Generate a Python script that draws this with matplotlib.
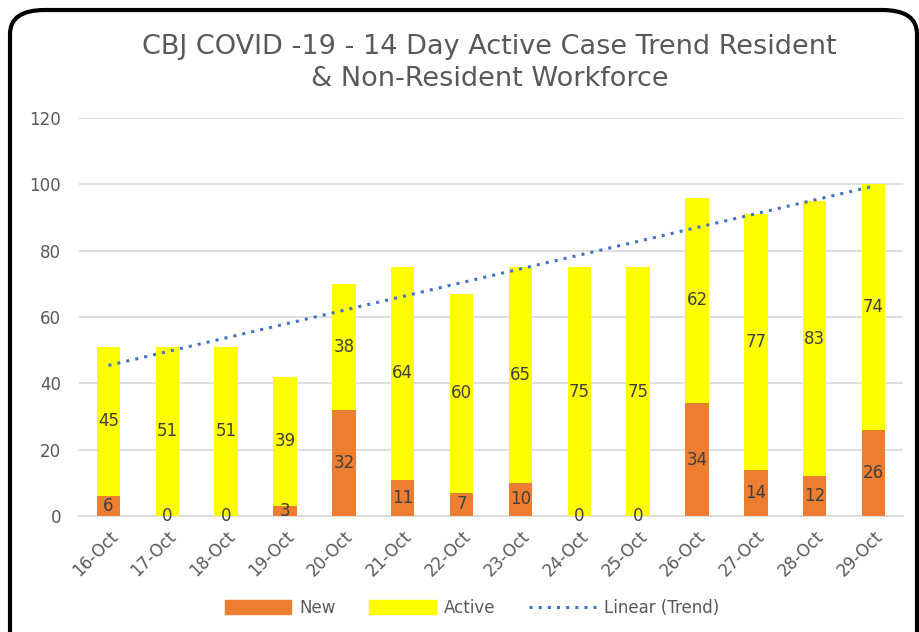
import matplotlib.pyplot as plt
import numpy as np
from matplotlib.patches import FancyBboxPatch
from matplotlib.lines import Line2D
from matplotlib.patches import Patch

plt.rcParams['font.family'] = ['DejaVu Sans']

#---- data
dates = ["16-Oct", "17-Oct", "18-Oct", "19-Oct", "20-Oct", "21-Oct", "22-Oct",
         "23-Oct", "24-Oct", "25-Oct", "26-Oct", "27-Oct", "28-Oct", "29-Oct"]
new_cases = [6, 0, 0, 3, 32, 11, 7, 10, 0, 0, 34, 14, 12, 26]
active_cases = [45, 51, 51, 39, 38, 64, 60, 65, 75, 75, 62, 77, 83, 74]

x = np.arange(len(dates))
new_arr = np.array(new_cases)
act_arr = np.array(active_cases)
totals = new_arr + act_arr

# linear trend of the totals (like Excel's trendline)
slope, intercept = np.polyfit(x, totals, 1)
trend = slope * x + intercept

fig = plt.figure(figsize=(9.2, 6.32), dpi=100)

# rounded black frame
frame = FancyBboxPatch((10 / 920, -30 / 632), 907 / 920, 652 / 632,
                       boxstyle="round,pad=0,rounding_size=0.038",
                       transform=fig.transFigure, fill=False,
                       edgecolor="black", linewidth=3, clip_on=False)
fig.patches.append(frame)

ax = fig.add_axes([79 / 920, 116 / 632, 824 / 920, 398 / 632])

orange = "#ED7D31"
yellow = "#FFFF00"
b1 = ax.bar(x, new_arr, width=0.4, color=orange, zorder=3)
b2 = ax.bar(x, act_arr, width=0.4, bottom=new_arr, color=yellow, zorder=3)
ax.plot(x, trend, linestyle=(0, (1, 2)), color="#4472C4", linewidth=2.2, zorder=4)

ax.bar_label(b1, label_type="center", fontsize=12, color="#404040")
ax.bar_label(b2, label_type="center", fontsize=12, color="#404040")

ax.set_xlim(-0.5, len(dates) - 0.5)
ax.set_ylim(0, 120)
ax.set_yticks(range(0, 121, 20))
ax.set_xticks(x)
ax.set_xticklabels(dates, rotation=45, ha="right", rotation_mode="anchor")
ax.tick_params(axis="both", length=0, labelsize=12, labelcolor="#595959")
ax.tick_params(axis="y", pad=13)
ax.tick_params(axis="x", pad=8)
ax.grid(axis="y", color="#D9D9D9", linewidth=1.2, zorder=0)
for s in ["top", "right", "left"]:
    ax.spines[s].set_visible(False)
ax.spines["bottom"].set_color("#D9D9D9")
ax.spines["bottom"].set_linewidth(1.2)

fig.text(0.532, 0.9, "CBJ COVID -19 - 14 Day Active Case Trend Resident\n& Non-Resident Workforce",
         ha="center", va="center", fontsize=19.5, color="#595959", linespacing=1.3)

handles = [Patch(color=orange), Patch(color=yellow),
           Line2D([0], [0], color="#4472C4", linestyle=(0, (1, 2)), linewidth=2.2)]
fig.legend(handles, ["New", "Active", "Linear (Trend)"], loc="center",
           bbox_to_anchor=(0.513, 0.038), ncol=3, frameon=False,
           fontsize=12, labelcolor="#595959", handlelength=4.0,
           handleheight=0.9, handletextpad=0.5, columnspacing=2.0)

fig.savefig("out.png", dpi=100)
